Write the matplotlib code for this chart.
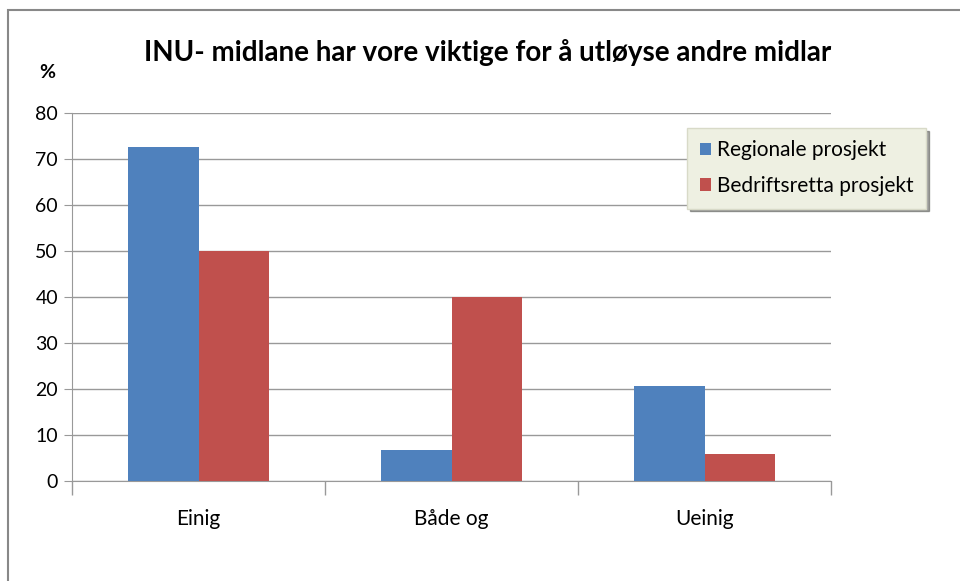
import numpy as np
import matplotlib.pyplot as plt
from matplotlib.patches import Rectangle

plt.rcParams['font.family'] = ['Lato', 'DejaVu Sans']

# data
categories = ["Einig", "Både og", "Ueinig"]
regionale = [72.5, 6.7, 20.7]
bedrift = [50.0, 40.0, 5.9]
series_names = ["Regionale prosjekt", "Bedriftsretta prosjekt"]

blue = "#4f81bd"
red = "#c0504d"

fig = plt.figure(figsize=(9.6, 5.81), dpi=100)
ax = fig.add_axes([72 / 960, 1 - 481 / 581, 759 / 960, 368 / 581])

# outer chart frame
fig.patches.append(Rectangle((8 / 960, -0.1), 1.1, 1.1 - 10 / 581,
                             transform=fig.transFigure, fill=False,
                             edgecolor="#888888", lw=1.5))

x = np.arange(len(categories))
w = 0.277
ax.bar(x - w / 2, regionale, w, color=blue, label=series_names[0], zorder=3)
ax.bar(x + w / 2, bedrift, w, color=red, label=series_names[1], zorder=3)

ax.set_xlim(-0.5, 2.5)
ax.set_ylim(0, 80)
ax.set_yticks(range(0, 81, 10))
ax.yaxis.grid(True, color="#999999", lw=1, zorder=0)
ax.set_xticks(x)
ax.set_xticklabels(categories, fontsize=15)
ax.set_xticks([-0.5, 0.5, 1.5, 2.5], minor=True)
ax.tick_params(axis="x", which="major", length=0, pad=20)
ax.tick_params(axis="x", which="minor", length=10, color="#999999", width=1)
ax.tick_params(axis="y", length=6, color="#999999", labelsize=14, pad=4)
for s in ["top", "right"]:
    ax.spines[s].set_visible(False)
ax.spines["left"].set_color("#999999")
ax.spines["bottom"].set_color("#999999")

fig.text(488 / 960, 1 - 52 / 581, "INU- midlane har vore viktige for å utløyse andre midlar",
         ha="center", va="center", fontsize=20, fontweight="bold")
fig.text(47 / 960, 1 - 73 / 581, "%", ha="center", va="center", fontsize=14, fontweight="bold")

leg = ax.legend(loc="upper left", bbox_to_anchor=((687 - 72) / 759, (481 - 128) / 368),
                borderaxespad=0, fontsize=15, frameon=True, fancybox=False, shadow=True,
                handlelength=0.55, handleheight=0.55, handletextpad=0.3,
                labelspacing=0.75, borderpad=0.6)
leg.get_frame().set_facecolor("#eef0e2")
leg.get_frame().set_edgecolor("#d8dac8")

fig.savefig("out.png", dpi=100)
